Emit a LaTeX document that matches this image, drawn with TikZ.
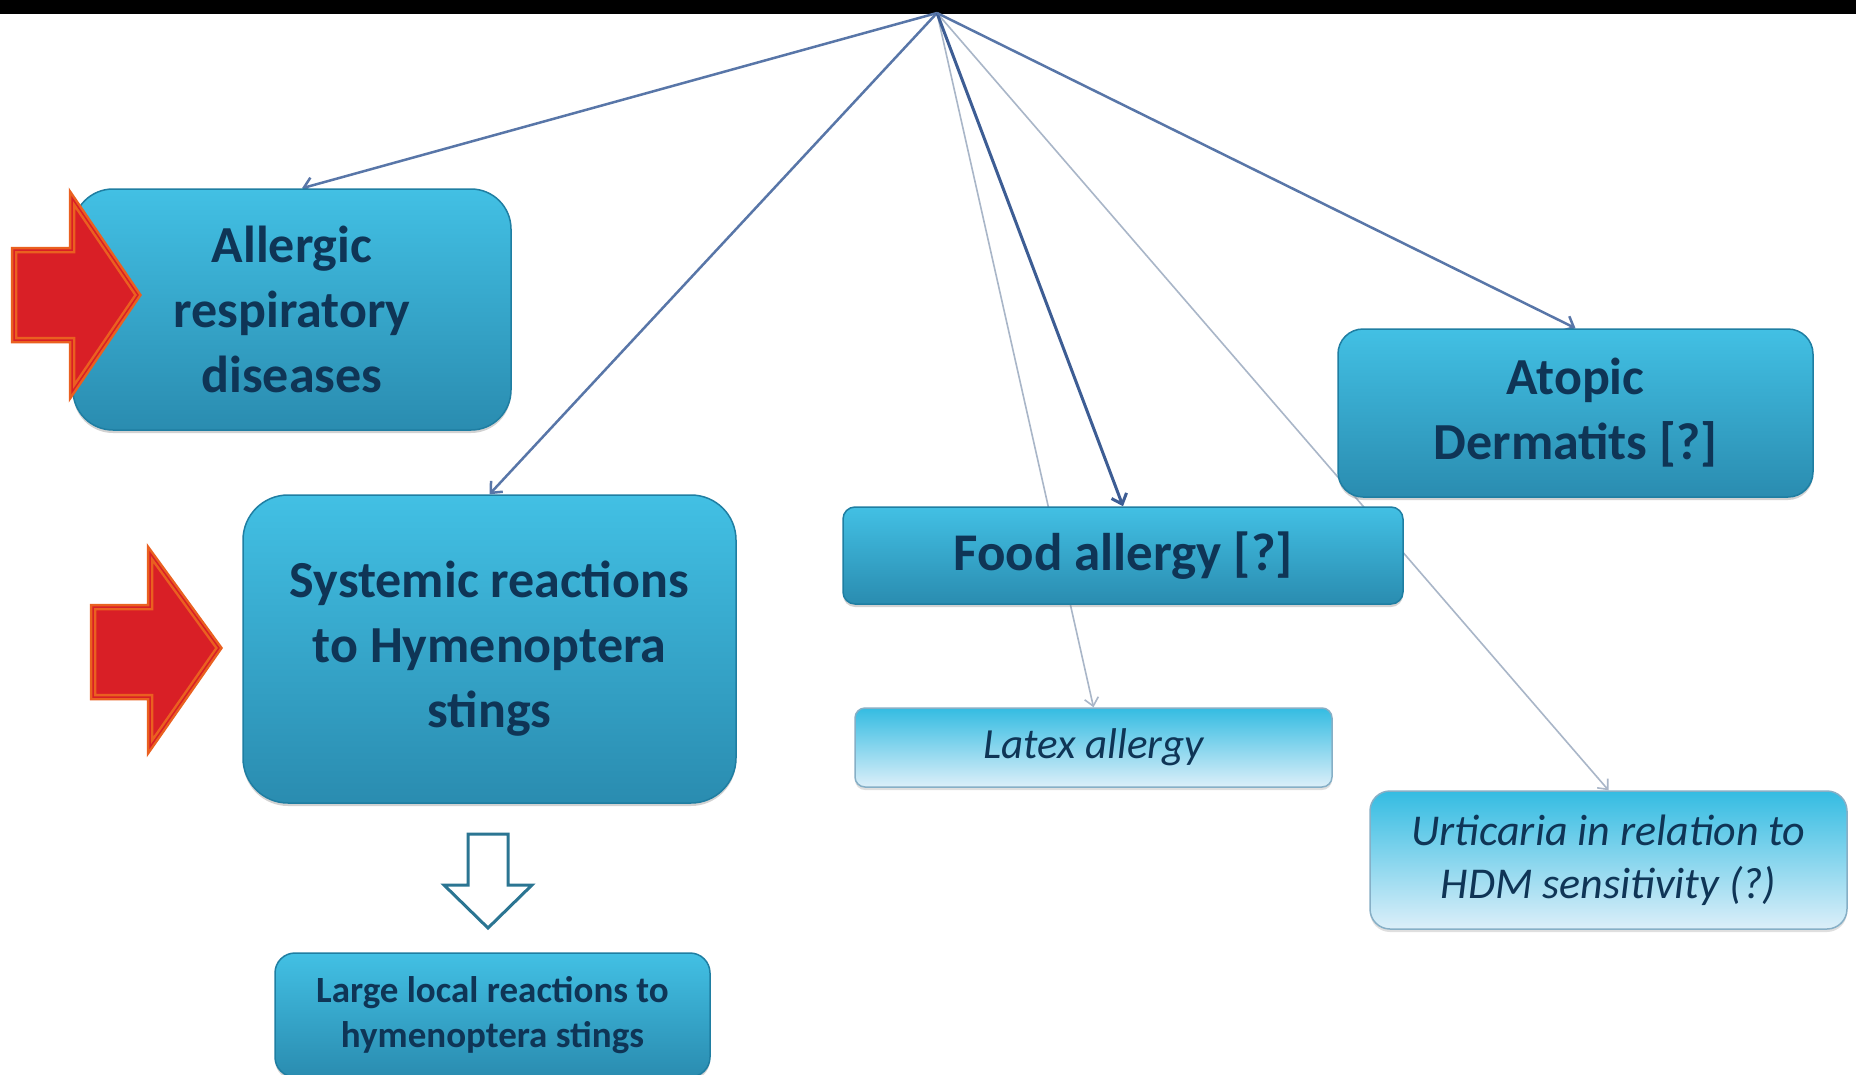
\documentclass[tikz,border=0pt]{standalone}
\usepackage{fontspec}
\setmainfont{Carlito}
\usetikzlibrary{calc,backgrounds,shadows,arrows.meta}
\definecolor{navy}{HTML}{0F3556}
\definecolor{boxtop}{HTML}{42C0E4}
\definecolor{boxbot}{HTML}{2A8CB0}
\definecolor{boxline}{HTML}{1F7EA2}
\definecolor{lighttop}{HTML}{34BCE2}
\definecolor{lightbot}{HTML}{DCEFF9}
\definecolor{lightline}{HTML}{86AFC6}
\definecolor{connc}{HTML}{5876A8}
\definecolor{conndark}{HTML}{3D5D94}
\definecolor{connthin}{HTML}{A9B6C8}
\definecolor{arrred}{HTML}{D91F26}
\definecolor{arrorange}{HTML}{EA6020}
\definecolor{hollowc}{HTML}{2B7592}
\tikzset{
  mainbox/.style={rounded corners=#1, draw=boxline, line width=1.5pt,
    top color=boxtop, bottom color=boxbot, text=navy, align=center,
    inner sep=0pt, drop shadow={opacity=0.35, shadow xshift=0pt, shadow yshift=-3pt}},
  lightbox/.style={rounded corners=#1, draw=lightline, line width=1.5pt,
    top color=lighttop, bottom color=lightbot, text=navy, align=center,
    inner sep=0pt, drop shadow={opacity=0.25, shadow xshift=0pt, shadow yshift=-3pt}},
  bigfont/.style={font=\bfseries\fontsize{52}{65}\selectfont},
  conn/.style={draw=connc, line width=2.5pt, -{Straight Barb[length=9pt,width=16pt]}},
  conndk/.style={draw=conndark, line width=3pt, -{Straight Barb[length=9pt,width=16pt]}},
  connlt/.style={draw=connthin, line width=1.6pt, -{Straight Barb[length=8pt,width=14pt]}},
  redarrow/.style={draw=arrorange, line width=2.5pt, double=arrred, double distance=1.5pt, line join=miter},
  hollowarrow/.style={draw=hollowc, line width=3pt, fill=white, line join=miter},
}
\begin{document}
\begin{tikzpicture}[x=1pt,y=-1pt]
\useasboundingbox (0,0) rectangle (1856,1074);

\node[mainbox=40pt, bigfont, minimum width=438pt, minimum height=241pt] (allergic) at (292,309.5) {Allergic\\respiratory\\diseases};
\node[mainbox=45pt, bigfont, minimum width=493pt, minimum height=308pt] (systemic) at (489.5,649) {Systemic reactions\\to Hymenoptera\\stings};
\node[mainbox=20pt, font=\bfseries\fontsize{37}{45}\selectfont, minimum width=435pt, minimum height=124pt] (large) at (492.5,1015) {Large local reactions to\\hymenoptera stings};
\node[mainbox=12pt, font=\bfseries\fontsize{53}{60}\selectfont, minimum width=560pt, minimum height=97pt] (food) at (1123,555.5) {Food allergy [?]};
\node[lightbox=10pt, font=\itshape\fontsize{43}{50}\selectfont, minimum width=477pt, minimum height=79pt] (latex) at (1093.5,747.5) {Latex allergy};
\node[mainbox=25pt, bigfont, minimum width=475pt, minimum height=168pt] (atopic) at (1575.5,413) {Atopic\\Dermatits [?]};
\node[lightbox=20pt, font=\itshape\fontsize{44}{53}\selectfont, minimum width=477pt, minimum height=138pt] (urt) at (1608.5,860) {Urticaria in relation to\\HDM sensitivity (?)};

% red pointer arrows
\fill[arrred] (14,250) -- (72,250) -- (72,198) -- (138,295) -- (72,392) -- (72,340) -- (14,340) -- cycle;
\draw[redarrow] (14,250) -- (72,250) -- (72,198) -- (138,295) -- (72,392) -- (72,340) -- (14,340) -- cycle;
\fill[arrred] (93,607) -- (150,607) -- (150,553) -- (219,648) -- (150,747) -- (150,697) -- (93,697) -- cycle;
\draw[redarrow] (93,607) -- (150,607) -- (150,553) -- (219,648) -- (150,747) -- (150,697) -- (93,697) -- cycle;

% hollow down arrow
\draw[hollowarrow] (468,834) -- (508,834) -- (508,885) -- (532,885) -- (488,928) -- (444,885) -- (468,885) -- cycle;

\begin{scope}[on background layer]
\fill[white] (0,0) rectangle (1856,1074);
\fill[black] (0,0) rectangle (1856,14);
\coordinate (src) at (937,13);
\draw[connlt] (src) -- (latex.north);
\draw[connlt] (src) -- (urt.north);
\draw[conn] (src) -- ($(allergic.north)+(10,0)$);
\draw[conn] (src) -- (systemic.north);
\draw[conndk] (src) -- (food.north);
\draw[conn] (src) -- (atopic.north);
\end{scope}
\end{tikzpicture}
\end{document}
